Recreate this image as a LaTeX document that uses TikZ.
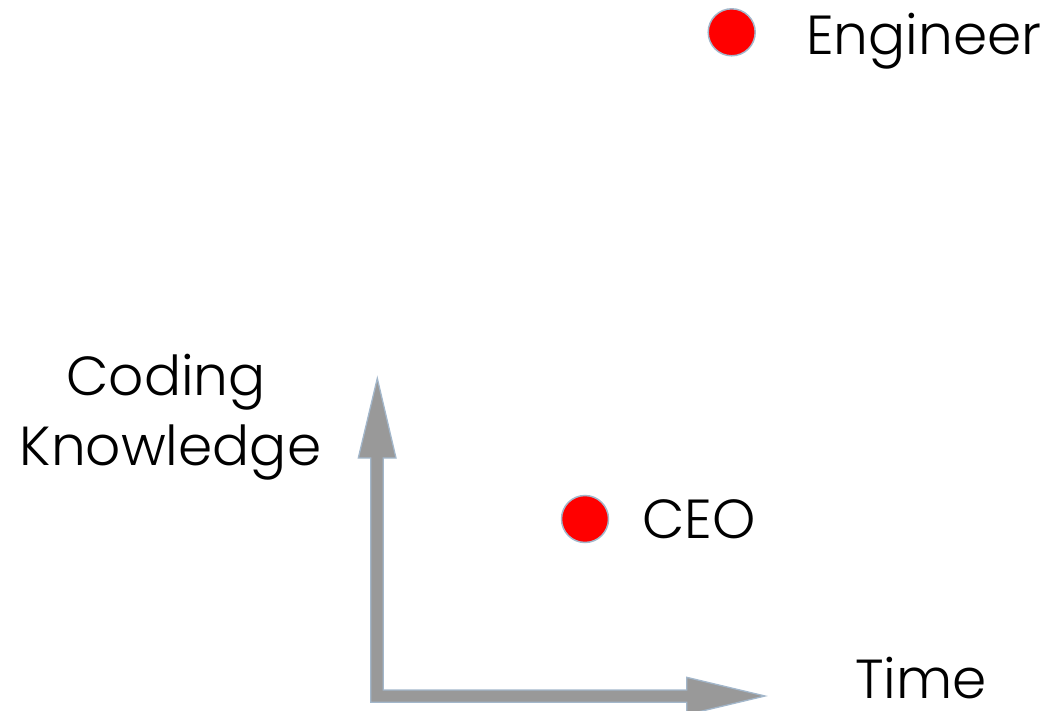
\documentclass[tikz,border=0pt]{standalone}
\usepackage{fontspec}
\setmainfont{Poppins}[UprightFont=* Light]
\begin{document}
\begin{tikzpicture}[x=1pt,y=-1pt,
  axisfill/.style={fill=axisgray,draw=axisedge,line width=1.3pt,line join=miter},
  dot/.style={circle,fill=red,draw=axisedge,line width=1.5pt,minimum size=47pt,inner sep=0pt},
  txt/.style={inner sep=0pt,text=black,font=\fontsize{55}{60}\selectfont},
  lbl/.style={txt,anchor=base west}]
\definecolor{axisgray}{HTML}{999999}
\definecolor{axisedge}{HTML}{A3B7CB}
\useasboundingbox (0,0) rectangle (1049,711);
% L-shaped double arrow forming the two axes
\draw[axisfill] (377.3,378.3) -- (396,458) -- (383.3,458) -- (383.3,690)
  -- (686.7,690) -- (686.7,677.3) -- (765,696) -- (686.7,714.7) -- (686.7,702.3)
  -- (370.7,702.3) -- (370.7,458) -- (358.3,458) -- cycle;
% axis labels
\node[txt,anchor=base] (ylab1) at (166,395) {Coding};
\node[txt,anchor=base] (ylab2) at (170.5,465) {Knowledge};
\node[lbl] (xlab) at (855,698) {Time};
% data points
\node[dot] (ceo) at (585,519) {};
\node[lbl] (ceolab) at (642,538) {CEO};
\node[dot] (eng) at (731.7,32.3) {};
\node[lbl] (englab) at (806,55) {Engineer};
\end{tikzpicture}
\end{document}
